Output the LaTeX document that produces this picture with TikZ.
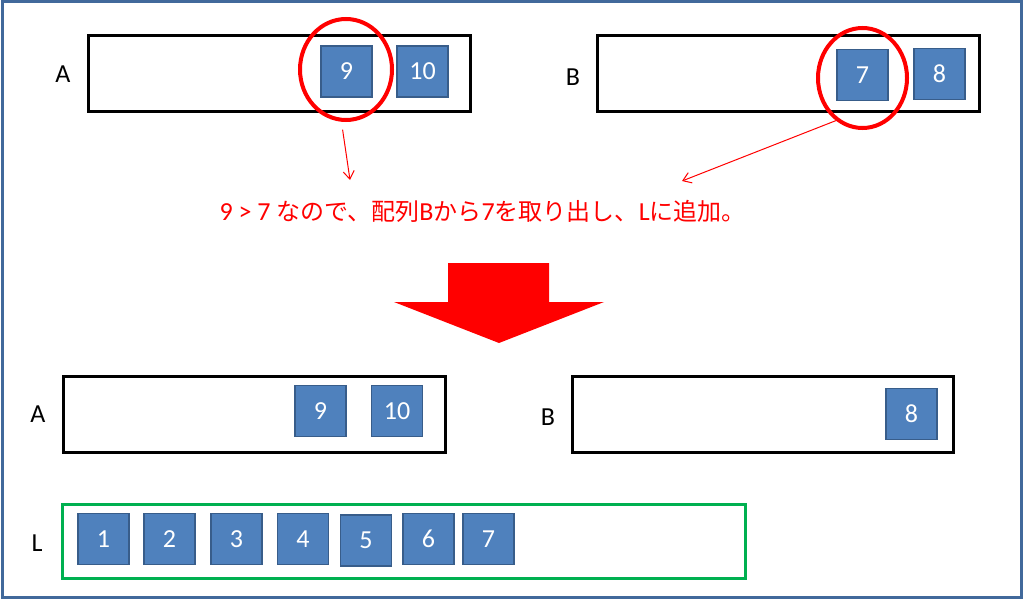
\documentclass[tikz,border=0pt]{standalone}
\usepackage{fontspec}
\setmainfont{Carlito}
\newfontfamily\jpfont{Noto Sans CJK JP}
\usetikzlibrary{shapes.geometric,arrows.meta}
\newcommand{\jtext}[1]{{\jpfont\fontsize{24}{28}\selectfont #1}}

\begin{document}
\begin{tikzpicture}[x=1pt,y=-1pt, line width=3pt,
        item/.style={draw=itemborder, fill=itemfill, line width=1.5pt, minimum width=51pt, minimum height=51pt, inner sep=0pt, text=white, font=\fontsize{26}{26}\selectfont},
        arrname/.style={font=\fontsize{26}{26}\selectfont, inner sep=0pt},
        pick/.style={draw=red, ellipse, line width=4pt, inner sep=0pt},
        thinarrow/.style={red, line width=1pt, -{Straight Barb[length=8pt,width=11pt]}}]
        \definecolor{itemfill}{HTML}{4F81BD}
        \definecolor{itemborder}{HTML}{385D8A}
        \definecolor{framecolor}{RGB}{65,105,155}
        \definecolor{listcolor}{HTML}{00B050}

        \useasboundingbox (0,0) rectangle (1024,599);
        % Draw outer frame
        \draw[framecolor] (2,2) rectangle (1021,597);

        \begin{scope}
            % Draw array A
            \draw (88,36) rectangle (470,112);
            \node[arrname] (topA) at (63,74) {A};
            \node[item] (a9) at (346.5,71.5) {9};
            \node[item] (a10) at (422.5,71.5) {10};
            \node[pick, minimum width=92pt, minimum height=101pt] (pickA) at (346,69.5) {};

            % Draw array B
            \draw (597,36) rectangle (979,112);
            \node[arrname] (topB) at (573,77) {B};
            \node[item] (b7) at (862.5,75) {7};
            \node[item] (b8) at (939.5,74) {8};
            \node[pick, minimum width=89pt, minimum height=100pt] (pickB) at (862.5,78) {};
        \end{scope}

        % Comparison text and arrows
        \node[anchor=base west, inner sep=0pt, text=red, font=\fontsize{26}{30}\selectfont] (rule) at (218,220)
            {9 > 7 \jtext{なので、配列}B\jtext{から}7\jtext{を取り出し、}L\jtext{に追加。}};
        \coordinate (tipA) at (350,180);
        \coordinate (tipB) at (682,181);
        \draw[thinarrow, shorten <=8pt] (pickA.-95) -- (tipA);
        \draw[thinarrow] (pickB.-122) -- (tipB);

        % Big arrow
        \fill[red] (448,263) -- (549,263) -- (549,302) -- (604,302) -- (499,343) -- (394,302) -- (448,302) -- cycle;

        \begin{scope}
            % Draw array A after the step
            \draw (63,376) rectangle (445,452);
            \node[arrname] (botA) at (38,414) {A};
            \node[item] (c9) at (320.5,411) {9};
            \node[item] (c10) at (397,411) {10};

            % Draw array B after the step
            \draw (572,376) rectangle (953,452);
            \node[arrname] (botB) at (548,417) {B};
            \node[item] (d8) at (911.5,414) {8};

            % Draw list L
            \draw[listcolor] (62,504) rectangle (745,578);
            \node[arrname] (botL) at (37,543) {L};
            \node[item] (l1) at (103.5,539) {1};
            \node[item] (l2) at (169.5,539) {2};
            \node[item] (l3) at (236.5,539) {3};
            \node[item] (l4) at (303,539) {4};
            \node[item] (l5) at (366,540.5) {5};
            \node[item] (l6) at (428.5,539) {6};
            \node[item] (l7) at (488.5,539) {7};
        \end{scope}
    \end{tikzpicture}
\end{document}
